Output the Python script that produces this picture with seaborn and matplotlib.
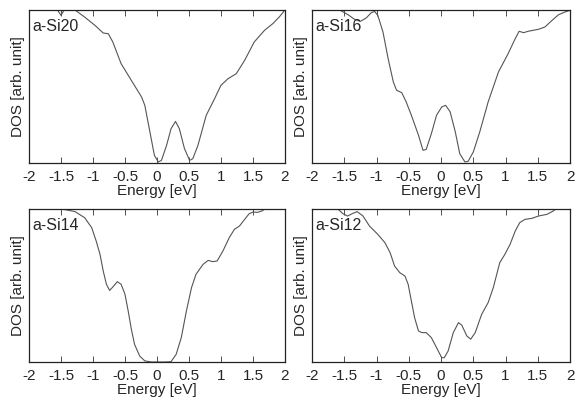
import pandas as pd
import matplotlib
matplotlib.use("Agg")
import matplotlib.pyplot as plt
import seaborn as sns

sns.set_style("ticks")
plt.rcParams['font.family'] = ['Liberation Sans', 'DejaVu Sans']

# ------------------------------------------------------------
# data (energy in eV, DOS in arb. unit)
# ------------------------------------------------------------
e_si20 = [-1.60, -1.50, -1.41, -1.28, -1.13, -0.97, -0.84, -0.76, -0.69, -0.56,
          -0.40, -0.24, -0.19, -0.11, -0.04, 0.02, 0.07, 0.15, 0.22, 0.29,
          0.35, 0.43, 0.51, 0.56, 0.64, 0.77, 0.90, 1.00, 1.11, 1.24,
          1.37, 1.52, 1.68, 1.81, 1.91, 2.00]
d_si20 = [1.03, 0.965, 1.03, 1.00, 0.954, 0.900, 0.850, 0.845, 0.791, 0.649,
          0.540, 0.431, 0.377, 0.203, 0.050, 0.007, 0.017, 0.115, 0.224, 0.272,
          0.224, 0.094, 0.017, 0.028, 0.115, 0.312, 0.420, 0.508, 0.551, 0.584,
          0.671, 0.791, 0.867, 0.911, 0.954, 1.00]

e_si16 = [-1.57, -1.44, -1.34, -1.25, -1.16, -1.08, -1.03, -0.98, -0.90, -0.82,
          -0.74, -0.69, -0.61, -0.54, -0.46, -0.35, -0.28, -0.23, -0.15, -0.07,
          0.01, 0.07, 0.14, 0.22, 0.29, 0.37, 0.42, 0.50, 0.60, 0.73,
          0.89, 1.04, 1.15, 1.21, 1.28, 1.35, 1.51, 1.61, 1.72, 1.82,
          1.92, 2.00]
d_si16 = [1.00, 0.969, 0.939, 0.926, 0.948, 0.983, 0.991, 0.965, 0.856, 0.682,
          0.530, 0.476, 0.460, 0.399, 0.312, 0.182, 0.083, 0.089, 0.192, 0.312,
          0.366, 0.377, 0.336, 0.205, 0.061, 0.007, 0.011, 0.072, 0.203, 0.399,
          0.595, 0.715, 0.813, 0.861, 0.852, 0.861, 0.874, 0.889, 0.932, 0.969,
          0.987, 0.998]

e_si14 = [-1.49, -1.28, -1.13, -1.02, -0.95, -0.89, -0.84, -0.79, -0.74, -0.69,
          -0.62, -0.56, -0.50, -0.45, -0.40, -0.35, -0.27, -0.19, -0.09, 0.02,
          0.12, 0.22, 0.30, 0.38, 0.46, 0.54, 0.61, 0.72, 0.80, 0.87,
          0.94, 1.03, 1.13, 1.21, 1.29, 1.37, 1.44, 1.50, 1.57, 1.64,
          1.70]
d_si14 = [1.00, 0.983, 0.943, 0.878, 0.791, 0.704, 0.595, 0.508, 0.468, 0.490,
          0.525, 0.508, 0.443, 0.334, 0.214, 0.115, 0.039, 0.007, 0.0, 0.0,
          0.0, 0.002, 0.050, 0.159, 0.333, 0.486, 0.573, 0.638, 0.664, 0.656,
          0.660, 0.725, 0.813, 0.867, 0.889, 0.932, 0.969, 0.980, 0.978, 0.987,
          1.004]

e_si12 = [-1.60, -1.52, -1.45, -1.38, -1.30, -1.21, -1.11, -0.98, -0.87, -0.79,
          -0.72, -0.64, -0.56, -0.51, -0.46, -0.41, -0.35, -0.30, -0.23, -0.15,
          -0.07, 0.01, 0.05, 0.11, 0.19, 0.27, 0.32, 0.40, 0.46, 0.53,
          0.63, 0.73, 0.81, 0.91, 0.99, 1.07, 1.15, 1.22, 1.30, 1.41,
          1.51, 1.64, 1.74, 1.79]
d_si12 = [1.00, 0.969, 0.954, 0.969, 0.983, 0.954, 0.889, 0.834, 0.780, 0.715,
          0.627, 0.584, 0.562, 0.508, 0.399, 0.290, 0.203, 0.192, 0.192, 0.159,
          0.094, 0.028, 0.028, 0.072, 0.192, 0.257, 0.242, 0.170, 0.149, 0.192,
          0.312, 0.388, 0.486, 0.649, 0.704, 0.769, 0.856, 0.911, 0.932, 0.939,
          0.954, 0.965, 0.987, 1.004]

names = ["a-Si20", "a-Si16", "a-Si14", "a-Si12"]
energies = [e_si20, e_si16, e_si14, e_si12]
dos = [d_si20, d_si16, d_si14, d_si12]

tick_pos = [-2, -1.5, -1, -0.5, 0, 0.5, 1, 1.5, 2]
tick_lab = ["-2", "-1.5", "-1", "-0.5", "0", "0.5", "1", "1.5", "2"]

# ------------------------------------------------------------
# figure
# ------------------------------------------------------------
fig = plt.figure(figsize=(5.76, 4.01), dpi=100)
rects = [
    [0.0503, 0.5935, 0.4444, 0.3815],
    [0.5417, 0.5935, 0.4480, 0.3815],
    [0.0503, 0.0973, 0.4444, 0.3815],
    [0.5417, 0.0973, 0.4480, 0.3815],
]

fs = 11
for rect, name, e, d in zip(rects, names, energies, dos):
    ax = fig.add_axes(rect)
    df = pd.DataFrame({"Energy": e, "DOS": d})
    sns.lineplot(data=df, x="Energy", y="DOS", ax=ax, color="#555555",
                 linewidth=0.8, sort=False)
    ax.set_xlim(-2, 2)
    ax.set_ylim(0, 1)
    ax.set_xticks(tick_pos)
    ax.set_xticklabels(tick_lab, fontsize=fs)
    ax.set_yticks([])
    ax.tick_params(axis="x", direction="in", top=True, bottom=True,
                   length=4, width=0.6, pad=5, color="#333333")
    for s in ax.spines.values():
        s.set_linewidth(0.9)
        s.set_color("#222222")
    ax.set_xlabel("Energy [eV]", fontsize=fs, labelpad=0)
    ax.set_ylabel("DOS [arb. unit]", fontsize=fs, labelpad=3)
    ax.text(0.012, 0.89, name, transform=ax.transAxes, fontsize=11.5,
            ha="left", va="center")

plt.savefig("out.png", dpi=100)
